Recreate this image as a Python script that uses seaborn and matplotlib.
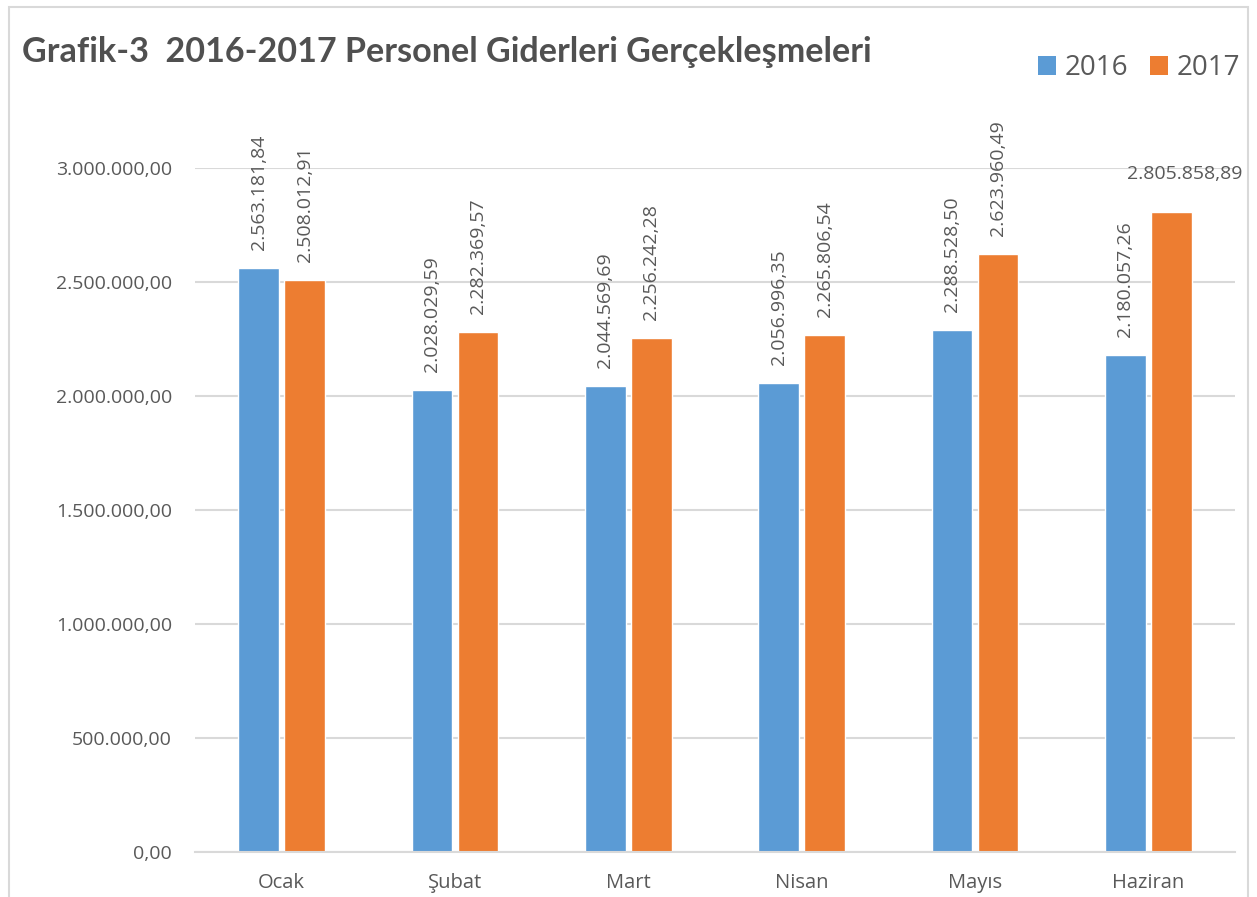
import pandas as pd
import matplotlib
matplotlib.use("Agg")
import matplotlib.pyplot as plt
import seaborn as sns
from matplotlib.patches import Patch, Rectangle
from matplotlib.ticker import FuncFormatter

months = ["Ocak", "Şubat", "Mart", "Nisan", "Mayıs", "Haziran"]
years = ["2016", "2017"]
values_2016 = [2563181.84, 2028029.59, 2044569.69, 2056996.35, 2288528.50, 2180057.26]
values_2017 = [2508012.91, 2282369.57, 2256242.28, 2265806.54, 2623960.49, 2805858.89]
y_ticks = [0, 500000, 1000000, 1500000, 2000000, 2500000, 3000000]
colors = ["#5B9BD5", "#ED7D31"]
text_color = "#595959"
grid_color = "#D9D9D9"


def tr_number(v, pos=None):
    # Turkish format: 1.234.567,89
    s = f"{v:,.2f}"
    return s.replace(",", "X").replace(".", ",").replace("X", ".")


df = pd.DataFrame({
    "month": months * 2,
    "year": [years[0]] * len(months) + [years[1]] * len(months),
    "value": values_2016 + values_2017,
})

sns.set_theme(style="white")
plt.rcParams["font.family"] = ["Open Sans", "DejaVu Sans"]

fig = plt.figure(figsize=(12.57, 8.97), dpi=100)
ax = fig.add_axes([195 / 1257, 1 - 852 / 897, 1040 / 1257, 684 / 897])

sns.barplot(data=df, x="month", y="value", hue="year", order=months,
            hue_order=years, palette=colors, width=0.531, gap=0.11,
            saturation=1, errorbar=None, ax=ax, legend=False)

ax.set_ylim(0, 3000000)
ax.set_yticks(y_ticks)
ax.yaxis.set_major_formatter(FuncFormatter(tr_number))
ax.grid(axis="y", color=grid_color, linewidth=1.5)
ax.set_axisbelow(True)
for side in ["left", "right", "top"]:
    ax.spines[side].set_visible(False)
ax.spines["bottom"].set_color(grid_color)
ax.spines["bottom"].set_linewidth(1.5)
ax.tick_params(axis="both", length=0, labelcolor=text_color)
ax.tick_params(axis="y", pad=16.5, labelsize=14)
ax.tick_params(axis="x", pad=15, labelsize=14.5)
ax.set_xlabel("")
ax.set_ylabel("")

# value labels
for i, container in enumerate(ax.containers):
    vals = values_2016 if i == 0 else values_2017
    labels = [tr_number(v) for v in vals]
    if i == 1:
        labels[-1] = ""
    ax.bar_label(container, labels=labels, rotation=90, padding=13,
                 fontsize=14, color=text_color)

# last 2017 label sits horizontal above its bar
last_bar = ax.containers[1][-1]
ax.annotate(tr_number(values_2017[-1]),
            xy=(last_bar.get_x() + last_bar.get_width() / 2, last_bar.get_height()),
            xytext=(13, 38), textcoords="offset pixels", ha="center", va="center",
            fontsize=14, color=text_color, annotation_clip=False)

fig.text(22 / 1257, 1 - 62 / 897, "Grafik-3  2016-2017 Personel Giderleri Gerçekleşmeleri",
         fontsize=24.6, fontweight="bold", color="#505050", family=["Lato", "DejaVu Sans"],
         ha="left", va="baseline")

handles = [Patch(facecolor=c, edgecolor="none") for c in colors]
fig.legend(handles, years, loc="center right", bbox_to_anchor=(1240 / 1257, 1 - 68 / 897),
           ncol=2, frameon=False, fontsize=20, labelcolor=text_color,
           handlelength=0.65, handleheight=0.65, handletextpad=0.32,
           columnspacing=0.75, borderpad=0, borderaxespad=0)

fig.patches.append(Rectangle((9 / 1257, -0.05), 1239 / 1257, 1.05 - 7 / 897,
                             transform=fig.transFigure, fill=False,
                             edgecolor=grid_color, linewidth=1.5))

fig.savefig("out.png", dpi=100)
